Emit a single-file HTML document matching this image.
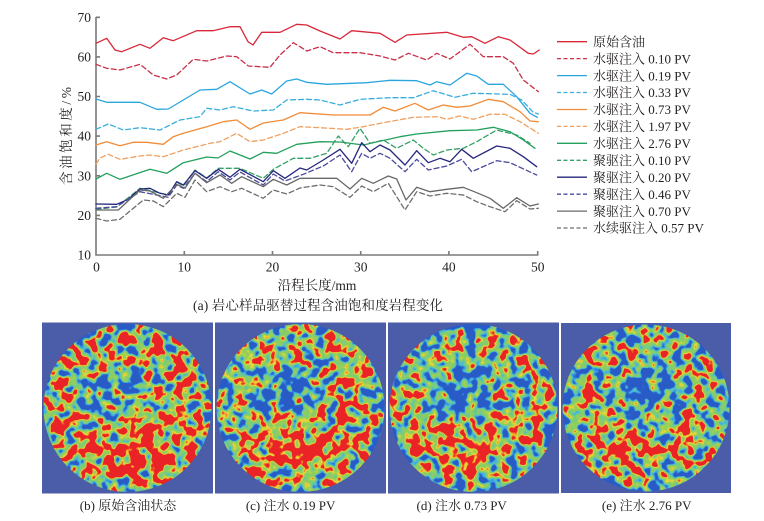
<!DOCTYPE html>
<html><head><meta charset="utf-8"><style>
html,body{margin:0;padding:0;background:#fff;}
svg{display:block;}
text{font-family:"Liberation Serif","Noto Serif CJK SC","Noto Sans CJK SC",serif;fill:#231f20;}
</style></head><body>
<svg width="764" height="521" viewBox="0 0 764 521" xmlns="http://www.w3.org/2000/svg">
<defs>
<clipPath id="cc"><circle cx="85.5" cy="85.5" r="84"/></clipPath>
<filter id="nz1" x="0" y="0" width="171" height="171" filterUnits="userSpaceOnUse" color-interpolation-filters="sRGB">
 <feGaussianBlur in="SourceGraphic" stdDeviation="10" result="b"/>
 <feTurbulence type="fractalNoise" baseFrequency="0.09" numOctaves="2" seed="2" result="n"/>
 <feColorMatrix in="n" type="matrix" values="1 0 0 0 0 1 0 0 0 0 1 0 0 0 0 0 0 0 0 1" result="g"/>
 <feComposite in="g" in2="b" operator="arithmetic" k1="0" k2="1.2" k3="0.6" k4="-0.38" result="m"/>
 <feComponentTransfer in="m">
  <feFuncR type="table" tableValues="0.16 0.16 0.16 0.16 0.16 0.16 0.16 0.16 0.25 0.45 0.55 0.60 0.95 0.92 0.92 0.92 0.92 0.92 0.92 0.92 0.92"/>
  <feFuncG type="table" tableValues="0.36 0.36 0.36 0.36 0.36 0.36 0.36 0.38 0.70 0.80 0.80 0.82 0.85 0.15 0.14 0.14 0.14 0.14 0.14 0.14 0.14"/>
  <feFuncB type="table" tableValues="0.78 0.78 0.78 0.78 0.78 0.78 0.78 0.80 0.90 0.55 0.38 0.35 0.20 0.15 0.15 0.15 0.15 0.15 0.15 0.15 0.15"/>
  <feFuncA type="table" tableValues="1 1"/>
 </feComponentTransfer>
</filter>
<filter id="nz2" x="0" y="0" width="171" height="171" filterUnits="userSpaceOnUse" color-interpolation-filters="sRGB">
 <feGaussianBlur in="SourceGraphic" stdDeviation="10" result="b"/>
 <feTurbulence type="fractalNoise" baseFrequency="0.09" numOctaves="2" seed="7" result="n"/>
 <feColorMatrix in="n" type="matrix" values="1 0 0 0 0 1 0 0 0 0 1 0 0 0 0 0 0 0 0 1" result="g"/>
 <feComposite in="g" in2="b" operator="arithmetic" k1="0" k2="1.2" k3="0.6" k4="-0.38" result="m"/>
 <feComponentTransfer in="m">
  <feFuncR type="table" tableValues="0.16 0.16 0.16 0.16 0.16 0.16 0.16 0.16 0.25 0.45 0.55 0.60 0.95 0.92 0.92 0.92 0.92 0.92 0.92 0.92 0.92"/>
  <feFuncG type="table" tableValues="0.36 0.36 0.36 0.36 0.36 0.36 0.36 0.38 0.70 0.80 0.80 0.82 0.85 0.15 0.14 0.14 0.14 0.14 0.14 0.14 0.14"/>
  <feFuncB type="table" tableValues="0.78 0.78 0.78 0.78 0.78 0.78 0.78 0.80 0.90 0.55 0.38 0.35 0.20 0.15 0.15 0.15 0.15 0.15 0.15 0.15 0.15"/>
  <feFuncA type="table" tableValues="1 1"/>
 </feComponentTransfer>
</filter>
<filter id="nz3" x="0" y="0" width="171" height="171" filterUnits="userSpaceOnUse" color-interpolation-filters="sRGB">
 <feGaussianBlur in="SourceGraphic" stdDeviation="10" result="b"/>
 <feTurbulence type="fractalNoise" baseFrequency="0.09" numOctaves="2" seed="13" result="n"/>
 <feColorMatrix in="n" type="matrix" values="1 0 0 0 0 1 0 0 0 0 1 0 0 0 0 0 0 0 0 1" result="g"/>
 <feComposite in="g" in2="b" operator="arithmetic" k1="0" k2="1.2" k3="0.6" k4="-0.38" result="m"/>
 <feComponentTransfer in="m">
  <feFuncR type="table" tableValues="0.16 0.16 0.16 0.16 0.16 0.16 0.16 0.16 0.25 0.45 0.55 0.60 0.95 0.92 0.92 0.92 0.92 0.92 0.92 0.92 0.92"/>
  <feFuncG type="table" tableValues="0.36 0.36 0.36 0.36 0.36 0.36 0.36 0.38 0.70 0.80 0.80 0.82 0.85 0.15 0.14 0.14 0.14 0.14 0.14 0.14 0.14"/>
  <feFuncB type="table" tableValues="0.78 0.78 0.78 0.78 0.78 0.78 0.78 0.80 0.90 0.55 0.38 0.35 0.20 0.15 0.15 0.15 0.15 0.15 0.15 0.15 0.15"/>
  <feFuncA type="table" tableValues="1 1"/>
 </feComponentTransfer>
</filter>
<filter id="nz4" x="0" y="0" width="171" height="171" filterUnits="userSpaceOnUse" color-interpolation-filters="sRGB">
 <feGaussianBlur in="SourceGraphic" stdDeviation="10" result="b"/>
 <feTurbulence type="fractalNoise" baseFrequency="0.09" numOctaves="2" seed="21" result="n"/>
 <feColorMatrix in="n" type="matrix" values="1 0 0 0 0 1 0 0 0 0 1 0 0 0 0 0 0 0 0 1" result="g"/>
 <feComposite in="g" in2="b" operator="arithmetic" k1="0" k2="1.2" k3="0.6" k4="-0.38" result="m"/>
 <feComponentTransfer in="m">
  <feFuncR type="table" tableValues="0.16 0.16 0.16 0.16 0.16 0.16 0.16 0.16 0.25 0.45 0.55 0.60 0.95 0.92 0.92 0.92 0.92 0.92 0.92 0.92 0.92"/>
  <feFuncG type="table" tableValues="0.36 0.36 0.36 0.36 0.36 0.36 0.36 0.38 0.70 0.80 0.80 0.82 0.85 0.15 0.14 0.14 0.14 0.14 0.14 0.14 0.14"/>
  <feFuncB type="table" tableValues="0.78 0.78 0.78 0.78 0.78 0.78 0.78 0.80 0.90 0.55 0.38 0.35 0.20 0.15 0.15 0.15 0.15 0.15 0.15 0.15 0.15"/>
  <feFuncA type="table" tableValues="1 1"/>
 </feComponentTransfer>
</filter>
</defs>

<!-- axes -->
<g stroke="#7a7a7a" stroke-width="1.6" fill="none">
 <path d="M96,17 V255 H538.5"/>
 <path d="M96,17.3 h4 M96,56.9 h4 M96,96.5 h4 M96,136.1 h4 M96,175.8 h4 M96,215.4 h4"/>
 <path d="M184.3,255 v-4 M272.5,255 v-4 M360.7,255 v-4 M448.9,255 v-4 M537.7,255 v-4"/>
</g>
<g font-size="13.5" text-anchor="end">
 <text x="91" y="22">70</text>
 <text x="91" y="61.5">60</text>
 <text x="91" y="101">50</text>
 <text x="91" y="140.7">40</text>
 <text x="91" y="180.3">30</text>
 <text x="91" y="220">20</text>
 <text x="91" y="259.5">10</text>
</g>
<g font-size="13.5" text-anchor="middle">
 <text x="96.5" y="271.5">0</text>
 <text x="184.3" y="271.5">10</text>
 <text x="272.5" y="271.5">20</text>
 <text x="360.7" y="271.5">30</text>
 <text x="448.9" y="271.5">40</text>
 <text x="537.7" y="271.5">50</text>
 <text x="317" y="290">沿程长度/mm</text>
 <text x="318" y="310" textLength="250">(a) 岩心样品驱替过程含油饱和度岩程变化</text>
 <text transform="translate(71,136) rotate(-90)" textLength="98">含油饱和度/%</text>
</g>

<!-- series -->
<g fill="none" stroke-width="1.3" stroke-linejoin="round" stroke-linecap="round">
 <polyline stroke="#d8283a" points="96,43.3 106.7,38.3 115,50 121.7,51.7 140,44.3 150,48.3 163.3,37.7 173.3,40.7 196.7,30.7 213,30.7 230,26.7 240,26.7 248,41.7 253,45 261.7,32.3 280,32.3 296.7,24.3 306.7,25 320,31 340,39 351.7,30.7 380,33.3 395,42.3 406.7,35 446.7,32.3 463.3,37.3 471.7,36.7 485,43.3 498.3,36.7 510,40 528.3,53.3 533.3,54 539.3,50"/>
 <polyline stroke="#c8304a" stroke-dasharray="5 3" points="96,64.3 106.7,68.3 120,70 140,64.3 153.3,75 166.7,79 176.7,75 193.3,59.3 206.7,61 226.7,56 236.7,56.7 248.3,66 270,67.3 280,55 293.3,42.7 300,46.7 306.7,51 320,46.7 333.3,52.7 360,52.7 380,56 395,60 408.3,53.3 426.7,60 436.7,53.3 450,59 470,44.3 483.3,56.7 503.3,56.7 513.3,63.3 523.3,80 538.3,91.7"/>
 <polyline stroke="#2aa6de" points="96,99 106.7,102.3 140,102.3 156.7,109.3 168.3,109 183.3,100 200,90 216.7,89.3 230,81.7 250,94 261.7,90 271.7,94 286.7,81 296.7,79 306.7,82.3 326.7,84.3 366.7,82.7 390,80.3 416.7,80.7 430,85 436.7,81.7 450,85 466.7,73.3 476.7,76 488.3,84.3 503.3,84.3 516.7,96.7 530,113.3 537.3,117.3"/>
 <polyline stroke="#38aede" stroke-dasharray="5 3" points="96,129.3 108.3,124 123.3,130 140,127.7 160,130 180,120 200,116.7 206.7,108.3 220,110 233.3,106.7 253.3,111 273.3,110 286.7,100 306.7,99.3 320,100 340,105 360,99.3 390,97.7 413.3,97.7 433.3,90.7 455,97.3 473.3,93.3 510,94.3 521.7,100 533.3,112.3 538.3,114"/>
 <polyline stroke="#f08c38" points="96,145 106.7,141.7 120,145.7 133.3,142.3 146.7,142.3 163.3,144.3 173.3,136.7 183.3,133.3 206.7,126.7 223.3,121.7 236.7,120 250,129.3 263.3,123 283.3,120 300,112.7 333.3,115 370,115 383.3,107.3 395,111 415,103.3 428.3,110 443.3,105 456.7,107.3 470,106 488.3,99.3 503.3,101.7 520,111.7 530,121 538.3,121.7"/>
 <polyline stroke="#f0a060" stroke-dasharray="5 3" points="96,164 100,158 108.3,154.3 120,159.3 140,156 150,155 163.3,156.7 183.3,150 210,143.3 220,141.7 236.7,133.3 250,141.7 263.3,140 283.3,133.3 300,126.7 320,127.7 346.7,129.3 363.3,126.7 383.3,122.7 413.3,117.3 438.3,116.7 446.7,119.3 460,116 473.3,119.3 490,114.3 505,114.3 520,121.7 538.3,133.3"/>
 <polyline stroke="#22a05c" points="96,179 106.7,173.3 120,179.3 150,169.3 166.7,173.3 183.3,162.7 206.7,157 218,158 230,151 250,159 263.3,152.3 276.7,153.3 296.7,144.3 320,141.7 340,142 363.3,145 400,136.7 416.7,134 450,130.7 476.7,130 493.3,127.3 510,131.7 523.3,140 535,148.3"/>
 <polyline stroke="#34a068" stroke-dasharray="5 3" points="96,209.3 116.7,207 140,188.3 168.3,195 176.7,182 183.3,186 195,170 206.7,178 218.3,168.3 240,168.3 263.3,178.3 273.3,169.3 293.3,158.3 310,158.3 326.7,153.3 338.3,136 348.3,146.7 360,128.3 370,143.3 383.3,140 396.7,148.3 413.3,140 423.3,148.3 433.3,155 446.7,150 463.3,148.3 476.7,141.7 496.7,130 516.7,135 530,143.3"/>
 <polyline stroke="#26267e" points="96,204 116.7,204.3 128.3,199.3 140,189 150,188.3 160,193.3 168.3,195 176.7,181.7 183.3,185 195,170.7 206.7,178.3 218.3,169.3 230,177.3 240,169.3 263.3,181.7 273.3,170.7 285,178.3 300,168 306.7,170 323.3,160 340,149.3 351.7,163.3 361.7,142.7 370,151.7 380,145 390,150 405,165 416.7,150.7 428.3,162.7 440,158.3 450,161.7 461.7,149.3 473.3,158.3 496.7,146 510,148.3 523.3,156.7 536.7,166.7"/>
 <polyline stroke="#4a4a9c" stroke-dasharray="5 3" points="96,208.3 116.7,206.7 140,191.7 168.3,197.3 176.7,185 183.3,188.3 195,173.3 206.7,181.7 218.3,171.7 230,180 240,172 263.3,185 273.3,174 285,181 303.3,174.3 323.3,166 340,155 351.7,171.7 361.7,153.3 370,158.3 380,153.3 390,158.3 405,171.7 416.7,159.3 428.3,170 446.7,166 461.7,159.3 471.7,171.7 496.7,160.7 510,162.7 536.7,175"/>
 <polyline stroke="#686868" points="96,210 118.3,210 140,190 150,191 163.3,198.3 176.7,184.3 185,188.3 195,173.3 206.7,182.7 220,175 231.7,183.3 241.7,176.7 263.3,186.7 273.3,179.3 286.7,185 300,178.3 320,178.3 336.7,178.3 350,189 361.7,178.3 373.3,183.3 388.3,176 396.7,179 406,200 416.7,187.3 430,191.7 446.7,189.3 463.3,187.3 476.7,192.7 490,198.3 503.3,208.3 516.7,197.7 530,206 538.3,204"/>
 <polyline stroke="#6e6e6e" stroke-dasharray="5 3" points="96,218.3 106.7,221 120,219.3 143.3,200 153.3,201 163.3,206.7 176.7,193.3 185,197.3 195,180 206.7,191.7 220,186.7 231.7,191.7 241.7,188.3 263.3,198.3 273.3,190 286.7,194 300,188 320,185 333.3,186.7 350,197.3 361.7,186 373.3,191.7 388.3,183.3 405,210 416.7,191.7 430,196 446.7,193.3 463.3,195 476.7,201.7 490,206.7 505,211.7 516.7,200.7 530,209 538.3,208.3"/>
</g>

<!-- legend -->
<g fill="none" stroke-width="1.3">
 <line x1="557" x2="587" y1="41.7" y2="41.7" stroke="#d8283a"/>
 <line x1="557" x2="587" y1="58.6" y2="58.6" stroke="#c8304a" stroke-dasharray="4 2.5"/>
 <line x1="557" x2="587" y1="75.6" y2="75.6" stroke="#2aa6de"/>
 <line x1="557" x2="587" y1="92.5" y2="92.5" stroke="#38aede" stroke-dasharray="4 2.5"/>
 <line x1="557" x2="587" y1="109.5" y2="109.5" stroke="#f08c38"/>
 <line x1="557" x2="587" y1="126.4" y2="126.4" stroke="#f0a060" stroke-dasharray="4 2.5"/>
 <line x1="557" x2="587" y1="143.3" y2="143.3" stroke="#22a05c"/>
 <line x1="557" x2="587" y1="160.3" y2="160.3" stroke="#34a068" stroke-dasharray="4 2.5"/>
 <line x1="557" x2="587" y1="177.2" y2="177.2" stroke="#26267e"/>
 <line x1="557" x2="587" y1="194.2" y2="194.2" stroke="#4a4a9c" stroke-dasharray="4 2.5"/>
 <line x1="557" x2="587" y1="211.1" y2="211.1" stroke="#686868"/>
 <line x1="557" x2="587" y1="228" y2="228" stroke="#6e6e6e" stroke-dasharray="4 2.5"/>
</g>
<g font-size="13">
 <text x="593" y="46.4">原始含油</text>
 <text x="593" y="63.3">水驱注入 0.10 PV</text>
 <text x="593" y="80.3">水驱注入 0.19 PV</text>
 <text x="593" y="97.2">水驱注入 0.33 PV</text>
 <text x="593" y="114.2">水驱注入 0.73 PV</text>
 <text x="593" y="131.1">水驱注入 1.97 PV</text>
 <text x="593" y="148">水驱注入 2.76 PV</text>
 <text x="593" y="165">聚驱注入 0.10 PV</text>
 <text x="593" y="181.9">聚驱注入 0.20 PV</text>
 <text x="593" y="198.9">聚驱注入 0.46 PV</text>
 <text x="593" y="215.8">聚驱注入 0.70 PV</text>
 <text x="593" y="232.7">水续驱注入 0.57 PV</text>
</g>

<!-- maps -->
<svg x="42" y="322.5" width="171" height="171" viewBox="0 0 171 171">
 <rect width="171" height="171" fill="#4b5ca9"/>
 <g clip-path="url(#cc)"><g filter="url(#nz1)">
  <rect width="171" height="171" fill="#8a8a8a"/>
  <ellipse cx="70" cy="72" rx="38" ry="18" transform="rotate(-25 70 72)" fill="#303030"/>
  <ellipse cx="105" cy="50" rx="14" ry="10" fill="#505050"/>
  <ellipse cx="95" cy="130" rx="45" ry="26" fill="#c8c8c8"/>
  <ellipse cx="140" cy="40" rx="18" ry="14" fill="#c0c0c0"/>
  <ellipse cx="22" cy="100" rx="14" ry="30" fill="#c0c0c0"/>
  <ellipse cx="150" cy="100" rx="14" ry="18" fill="#bcbcbc"/>
 </g></g>
</svg>
<svg x="215" y="322.5" width="171" height="171" viewBox="0 0 171 171">
 <rect width="171" height="171" fill="#4b5ca9"/>
 <g clip-path="url(#cc)"><g filter="url(#nz2)">
  <rect width="171" height="171" fill="#808080"/>
  <ellipse cx="72" cy="70" rx="40" ry="20" transform="rotate(-25 72 70)" fill="#303030"/>
  <ellipse cx="95" cy="50" rx="16" ry="12" fill="#484848"/>
  <ellipse cx="80" cy="125" rx="40" ry="25" fill="#c0c0c0"/>
  <ellipse cx="130" cy="45" rx="16" ry="12" fill="#b8b8b8"/>
  <ellipse cx="135" cy="115" rx="16" ry="16" fill="#b8b8b8"/>
 </g></g>
</svg>
<svg x="388" y="322.5" width="171" height="171" viewBox="0 0 171 171">
 <rect width="171" height="171" fill="#4b5ca9"/>
 <g clip-path="url(#cc)"><g filter="url(#nz3)">
  <rect width="171" height="171" fill="#7a7a7a"/>
  <ellipse cx="75" cy="68" rx="42" ry="22" transform="rotate(-25 75 68)" fill="#303030"/>
  <ellipse cx="70" cy="125" rx="38" ry="22" fill="#b8b8b8"/>
  <ellipse cx="25" cy="85" rx="12" ry="22" fill="#b0b0b0"/>
  <ellipse cx="140" cy="95" rx="14" ry="18" fill="#a8a8a8"/>
 </g></g>
</svg>
<svg x="561" y="322.5" width="170" height="171" viewBox="0 0 171 171">
 <rect width="171" height="171" fill="#4b5ca9"/>
 <g clip-path="url(#cc)"><g filter="url(#nz4)">
  <rect width="171" height="171" fill="#767676"/>
  <ellipse cx="78" cy="75" rx="42" ry="24" transform="rotate(-25 78 75)" fill="#303030"/>
  <ellipse cx="65" cy="125" rx="34" ry="24" fill="#b4b4b4"/>
  <ellipse cx="40" cy="80" rx="16" ry="22" fill="#a8a8a8"/>
  <ellipse cx="125" cy="115" rx="16" ry="18" fill="#a8a8a8"/>
 </g></g>
</svg>

<g font-size="13" text-anchor="middle">
 <text x="128" y="510">(b) 原始含油状态</text>
 <text x="290.6" y="510">(c) 注水 0.19 PV</text>
 <text x="461.7" y="510">(d) 注水 0.73 PV</text>
 <text x="646.7" y="510">(e) 注水 2.76 PV</text>
</g>
</svg>
</body></html>
